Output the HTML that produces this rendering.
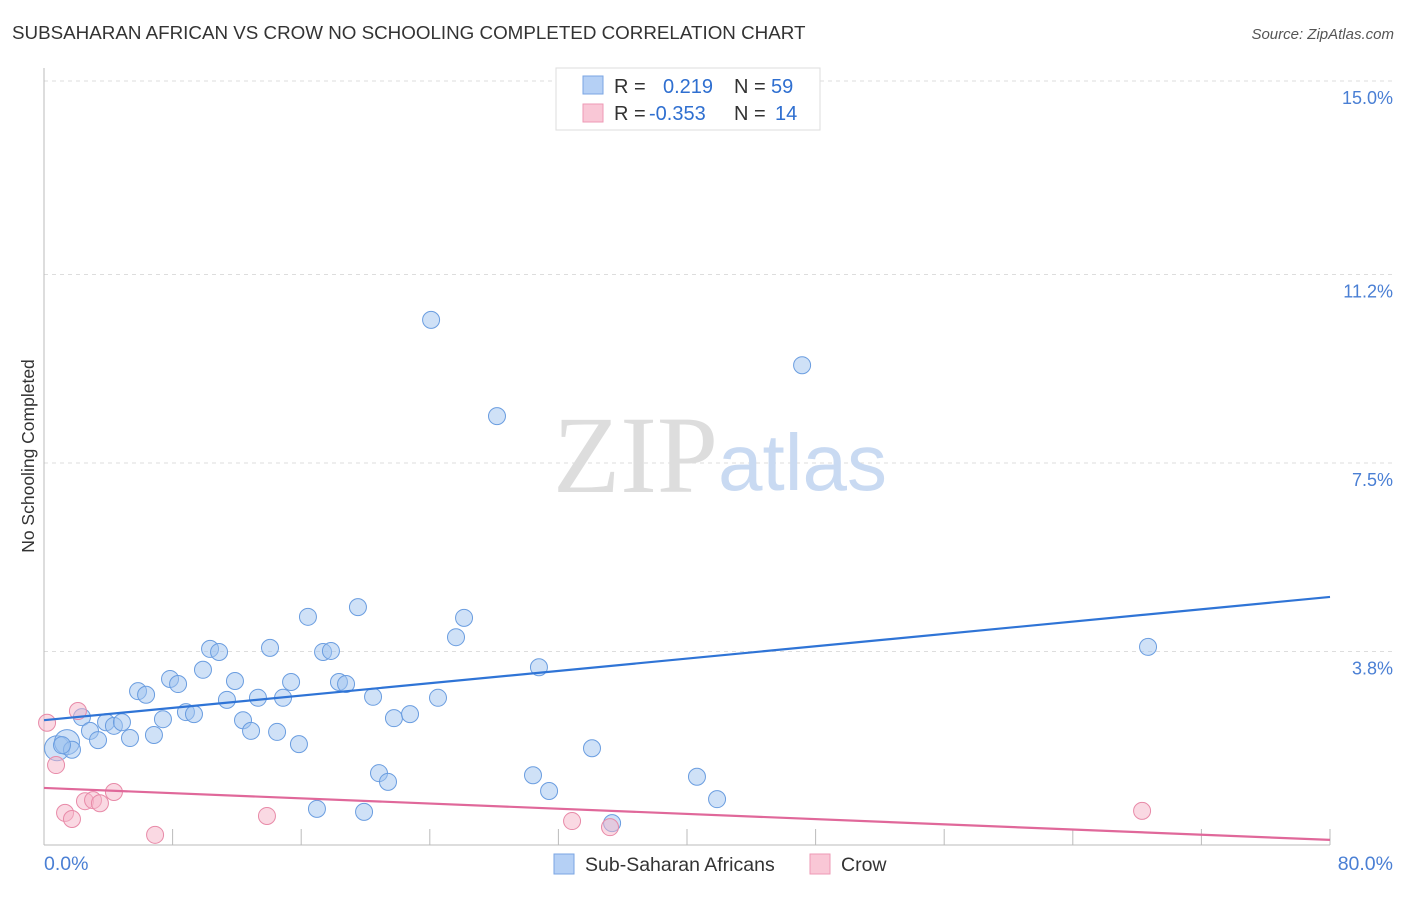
<!DOCTYPE html>
<html><head><meta charset="utf-8"><style>
body{margin:0;background:#fff;font-family:"Liberation Sans",sans-serif;}
</style></head><body>
<svg width="1406" height="892" xmlns="http://www.w3.org/2000/svg" font-family="Liberation Sans, sans-serif">
<text x="12" y="39" font-size="18.8" fill="#333">SUBSAHARAN AFRICAN VS CROW NO SCHOOLING COMPLETED CORRELATION CHART</text>
<text x="1394" y="39" font-size="15" fill="#555" font-style="italic" text-anchor="end">Source: ZipAtlas.com</text>
<g id="grid"></g>
<g id="yt"></g>
<g id="xt"></g>
<text x="553" y="492" font-size="110" fill="#ddd" font-family="Liberation Serif, serif">ZIP</text>
<text x="718" y="490" font-size="80" fill="#c9daf2">atlas</text>
<text transform="translate(34,456) rotate(-90)" font-size="17.5" fill="#333" text-anchor="middle">No Schooling Completed</text>
<g id="marks"></g>
<g>
<rect x="556" y="68" width="264" height="62" fill="#fff" stroke="#ddd"/>
<rect x="583" y="76" width="20" height="18" fill="#b5d0f5" stroke="#7aa5e3"/>
<rect x="583" y="104" width="20" height="18" fill="#f9c7d6" stroke="#ee9ab5"/>
<text x="614" y="93" font-size="20" fill="#333">R = <tspan fill="#2f6fd0" x="663">0.219</tspan><tspan x="734" fill="#333">N =</tspan><tspan x="771" fill="#2f6fd0">59</tspan></text>
<text x="614" y="120" font-size="20" fill="#333">R = <tspan fill="#2f6fd0" x="649">-0.353</tspan><tspan x="734" fill="#333">N =</tspan><tspan x="775" fill="#2f6fd0">14</tspan></text>
</g>
<g>
<rect x="554" y="854" width="20" height="20" fill="#b5d0f5" stroke="#7aa5e3"/>
<text x="585" y="871" font-size="19.5" fill="#333">Sub-Saharan Africans</text>
<rect x="810" y="854" width="20" height="20" fill="#f9c7d6" stroke="#ee9ab5"/>
<text x="841" y="871" font-size="19.5" fill="#333">Crow</text>
</g>
<text x="44" y="870" font-size="19.5" fill="#4a7fd4">0.0%</text>
<text x="1393" y="870" font-size="19.5" fill="#4a7fd4" text-anchor="end">80.0%</text>
</svg>
<script>
const yTicks=[15.0,11.2,7.5,3.8];
const yTickLabels=["15.0%","11.2%","7.5%","3.8%"];
const blueX=[0.81,1.43,1.74,1.12,2.36,2.86,3.36,3.86,4.35,4.85,5.35,5.85,6.35,6.84,7.40,7.84,8.34,8.83,9.33,9.89,10.33,10.89,11.38,11.88,12.38,12.88,13.31,14.06,14.50,14.87,15.37,15.86,16.42,16.98,17.36,17.85,18.35,18.79,19.53,19.91,20.47,20.84,21.40,21.77,22.77,24.08,24.51,25.63,26.13,28.18,30.42,30.79,31.42,34.09,35.34,40.62,41.87,47.16,68.68];
const blueY=[1.90,2.02,1.87,1.96,2.51,2.24,2.06,2.41,2.34,2.41,2.10,3.02,2.95,2.16,2.47,3.26,3.16,2.61,2.57,3.44,3.85,3.79,2.85,3.22,2.45,2.24,2.89,3.87,2.22,2.89,3.20,1.98,4.48,0.71,3.79,3.81,3.20,3.16,4.67,0.65,2.91,1.41,1.24,2.49,2.57,10.31,2.89,4.08,4.46,8.42,1.37,3.49,1.06,1.90,0.43,1.34,0.90,9.42,3.89];
const pinkX=[0.19,0.75,1.31,1.74,2.11,2.55,3.05,3.48,4.35,6.91,13.87,32.85,35.21,68.31];
const pinkY=[2.40,1.57,0.63,0.51,2.63,0.86,0.88,0.82,1.04,0.20,0.57,0.47,0.35,0.67];
const blueTrend=[2.45,4.87];
const pinkTrend=[1.12,0.10];
const X0=44,X1=1330,Y0=845,YPER=191/3.75;
const sx=v=>X0+(X1-X0)*v/80, sy=v=>Y0-v*YPER;
const NS="http://www.w3.org/2000/svg";
function mk(t,a,p){const e=document.createElementNS(NS,t);for(const k in a)e.setAttribute(k,a[k]);p.appendChild(e);return e;}
const grid=document.getElementById('grid'),yt=document.getElementById('yt'),xt=document.getElementById('xt'),marks=document.getElementById('marks');
yTicks.forEach((v,i)=>{
 const l=mk('line',{x1:X0,x2:1394,y1:sy(v),y2:sy(v),stroke:'#ddd','stroke-dasharray':'4,4'},grid);
 
 
 const t=mk('text',{x:1393,y:sy(v)+23,'font-size':18,fill:'#4a7fd4','text-anchor':'end'},yt);
 t.textContent=yTickLabels[i];
 
 
});
const ax=mk('line',{x1:X0,x2:X0,y1:68,y2:Y0,stroke:'#bbb'},xt);


const bx=mk('line',{x1:X0,x2:X1,y1:Y0,y2:Y0,stroke:'#bbb'},xt);


for(let i=0;i<=10;i++){
 const tk=mk('line',{x1:sx(i*8),x2:sx(i*8),y1:Y0,y2:Y0-16,stroke:'#bbb'},xt);
 
 
}
blueX.forEach((x,i)=>{
 const big=i<2;
 const c=mk('circle',{cx:sx(x),cy:sy(blueY[i]),r:big?12.5:8.5,fill:'rgba(160,195,240,0.5)',stroke:'#6a9de0','stroke-width':1},marks);
 
 
});
pinkX.forEach((x,i)=>{
 const c=mk('circle',{cx:sx(x),cy:sy(pinkY[i]),r:8.5,fill:'rgba(245,180,200,0.5)',stroke:'#e88aa8','stroke-width':1},marks);
 
 
});
const bl=mk('line',{x1:sx(0),x2:sx(80),y1:sy(blueTrend[0]),y2:sy(blueTrend[1]),stroke:'#2f74d6','stroke-width':2.2},marks);


const pl=mk('line',{x1:sx(0),x2:sx(80),y1:sy(pinkTrend[0]),y2:sy(pinkTrend[1]),stroke:'#e0689a','stroke-width':2.2},marks);


</script>
</body></html>
